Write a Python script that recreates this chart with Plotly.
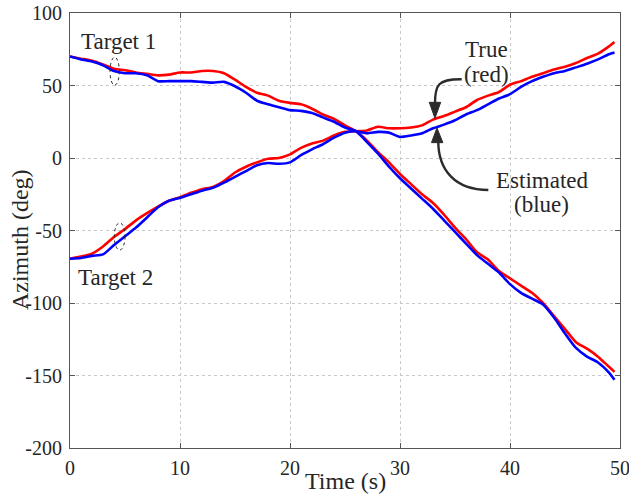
import plotly.graph_objects as go

# ---------------- data ----------------
time_s = [0, 1, 2, 3, 4, 5, 6, 7, 8, 9, 10, 11, 12, 13, 14, 15, 16, 17, 18, 19,
          20, 21, 22, 23, 24, 25, 26, 27, 28, 29, 30, 31, 32, 33, 34, 35, 36, 37, 38, 39,
          40, 41, 42, 43, 44, 45, 46, 47, 48, 49, 49.5]

target1_true = [70, 68.5, 67, 64.5, 61.5, 60.5, 59, 58, 57, 57.5,
                59, 59, 60, 60, 58.5, 54, 49, 45, 43, 39.5,
                38, 37, 34, 30, 27, 22.5, 18.5, 12, 4, -3,
                -11, -18, -25, -31, -39, -48, -56, -65, -70, -78,
                -83, -88, -93, -100, -109, -118, -127, -131.5, -137, -144, -147.5]

target1_est = [70, 68, 66.5, 64, 60, 58.5, 58.5, 57, 53, 53,
               53, 53, 52.5, 52, 52.5, 49.5, 45, 39.5, 37, 35,
               33, 32.5, 31, 28, 25, 21, 18.5, 11, 3, -6,
               -14, -21, -28, -35, -43, -51, -59, -67, -73, -79,
               -87, -93, -97, -101, -110, -121, -131, -137, -141, -148, -153]

target2_true = [-69.5, -68, -66, -61, -54.5, -49, -43, -38, -33.5, -29.5,
                -27, -24, -21.5, -20, -16, -10, -6, -3, -0.5, 0,
                2.5, 7, 10, 12, 15.5, 18, 18.5, 19, 21.5, 20.5,
                20.5, 21, 22.5, 26.5, 29, 32, 35, 40, 43, 45.5,
                50.5, 53, 56, 58.5, 61, 63, 65.5, 69, 72, 77, 80]

target2_est = [-69.5, -69, -67.5, -66.5, -60, -54, -48, -41, -34, -29.5,
               -27.5, -25, -22.5, -20.5, -17, -13, -9, -5, -3.5, -4,
               -3, 2, 6, 9.5, 14, 17.5, 18.5, 17, 18, 17.5,
               14.5, 15.5, 17, 20.5, 23, 26, 30, 33, 37, 41,
               44, 49, 53, 56, 58.5, 60, 62.5, 65, 68, 71.5, 72.7]

x_ticks = [0, 10, 20, 30, 40, 50]
y_ticks = [-200, -150, -100, -50, 0, 50, 100]

FONT = "Liberation Serif"
TXT = "#262626"
RED = "#ff0000"
BLUE = "#0000ff"

fig = go.Figure()
for true_vals, est_vals in [(target1_true, target1_est), (target2_true, target2_est)]:
    fig.add_trace(go.Scatter(x=time_s, y=true_vals, mode="lines",
                             line=dict(color=RED, width=2.6, shape="spline", smoothing=0.6),
                             showlegend=False))
    fig.add_trace(go.Scatter(x=time_s, y=est_vals, mode="lines",
                             line=dict(color=BLUE, width=2.6, shape="spline", smoothing=0.6),
                             showlegend=False))

axis_common = dict(showline=True, linecolor="#555555", linewidth=1.2, mirror="ticks",
                   ticks="inside", ticklen=5, tickcolor="#555555", automargin=False,
                   ticklabeloverflow="allow",
                   showgrid=True, gridcolor="#c8c8c8", griddash="dot", gridwidth=1,
                   zeroline=False, tickfont=dict(family=FONT, size=20, color=TXT))

fig.update_xaxes(range=[0, 50], tickvals=x_ticks, ticktext=[str(v) for v in x_ticks],
                 ticklabelstandoff=2, **axis_common)
fig.update_yaxes(range=[-200, 100], tickvals=y_ticks, ticktext=[str(v) for v in y_ticks],
                 ticklabelstandoff=3, **axis_common)

# axis titles (placed as annotations, overlapping tick area like the original)
fig.add_annotation(text="Time (s)", xref="paper", yref="paper", x=0.5, y=-0.0759,
                   showarrow=False, xanchor="center", yanchor="middle",
                   font=dict(family=FONT, size=24, color=TXT))
fig.add_annotation(text="Azimuth (deg)", xref="paper", yref="paper", x=-0.0909, y=0.478,
                   showarrow=False, xanchor="center", yanchor="middle", textangle=-90,
                   font=dict(family=FONT, size=24, color=TXT))

# ellipses
fig.add_shape(type="circle", xref="x", yref="y", x0=3.64, x1=4.48, y0=50.2, y1=69.5,
              line=dict(color="#222222", width=1, dash="dot"))
fig.add_shape(type="circle", xref="x", yref="y", x0=4.03, x1=5.0, y0=-63.5, y1=-44.7,
              line=dict(color="#222222", width=1, dash="dot"))

# curved arrows
ARROW = "#2b2b2b"
fig.add_shape(type="path", xref="x", yref="y",
              path="M 35.61,54.35 C 33.45,54.6 33.18,50.4 33.18,37.5",
              line=dict(color=ARROW, width=2.4))
fig.add_shape(type="path", xref="x", yref="y",
              path="M 33.18,27.4 L 32.66,38.4 L 33.70,38.4 Z",
              line=dict(color=ARROW, width=1), fillcolor=ARROW)
fig.add_shape(type="path", xref="x", yref="y",
              path="M 38.03,-22.1 C 35.0,-22.1 33.48,-8.3 33.48,11.5",
              line=dict(color=ARROW, width=2.4))
fig.add_shape(type="path", xref="x", yref="y",
              path="M 33.36,20.7 L 32.86,10.6 L 33.90,10.6 Z",
              line=dict(color=ARROW, width=1), fillcolor=ARROW)

def label(text, x, y):
    fig.add_annotation(text=text, x=x, y=y, xref="x", yref="y", showarrow=False,
                       font=dict(family=FONT, size=23, color=TXT), xanchor="center", yanchor="middle")

label("Target 1", (118 - 70) / 11, (158 - 42) / 1.448)
label("Target 2", (115.5 - 70) / 11, (158 - 277) / 1.448)
label("True", (486.5 - 70) / 11, (158 - 50) / 1.448)
label("(red)", (486 - 70) / 11, (158 - 75) / 1.448)
label("Estimated", (541.5 - 70) / 11, (158 - 180) / 1.448)
label("(blue)", (541 - 70) / 11, (158 - 204) / 1.448)

fig.update_layout(width=629, height=498, margin=dict(l=70, r=9, t=13, b=50),
                  paper_bgcolor="white", plot_bgcolor="white",
                  font=dict(family=FONT, color=TXT))

fig.write_html("out.html")
